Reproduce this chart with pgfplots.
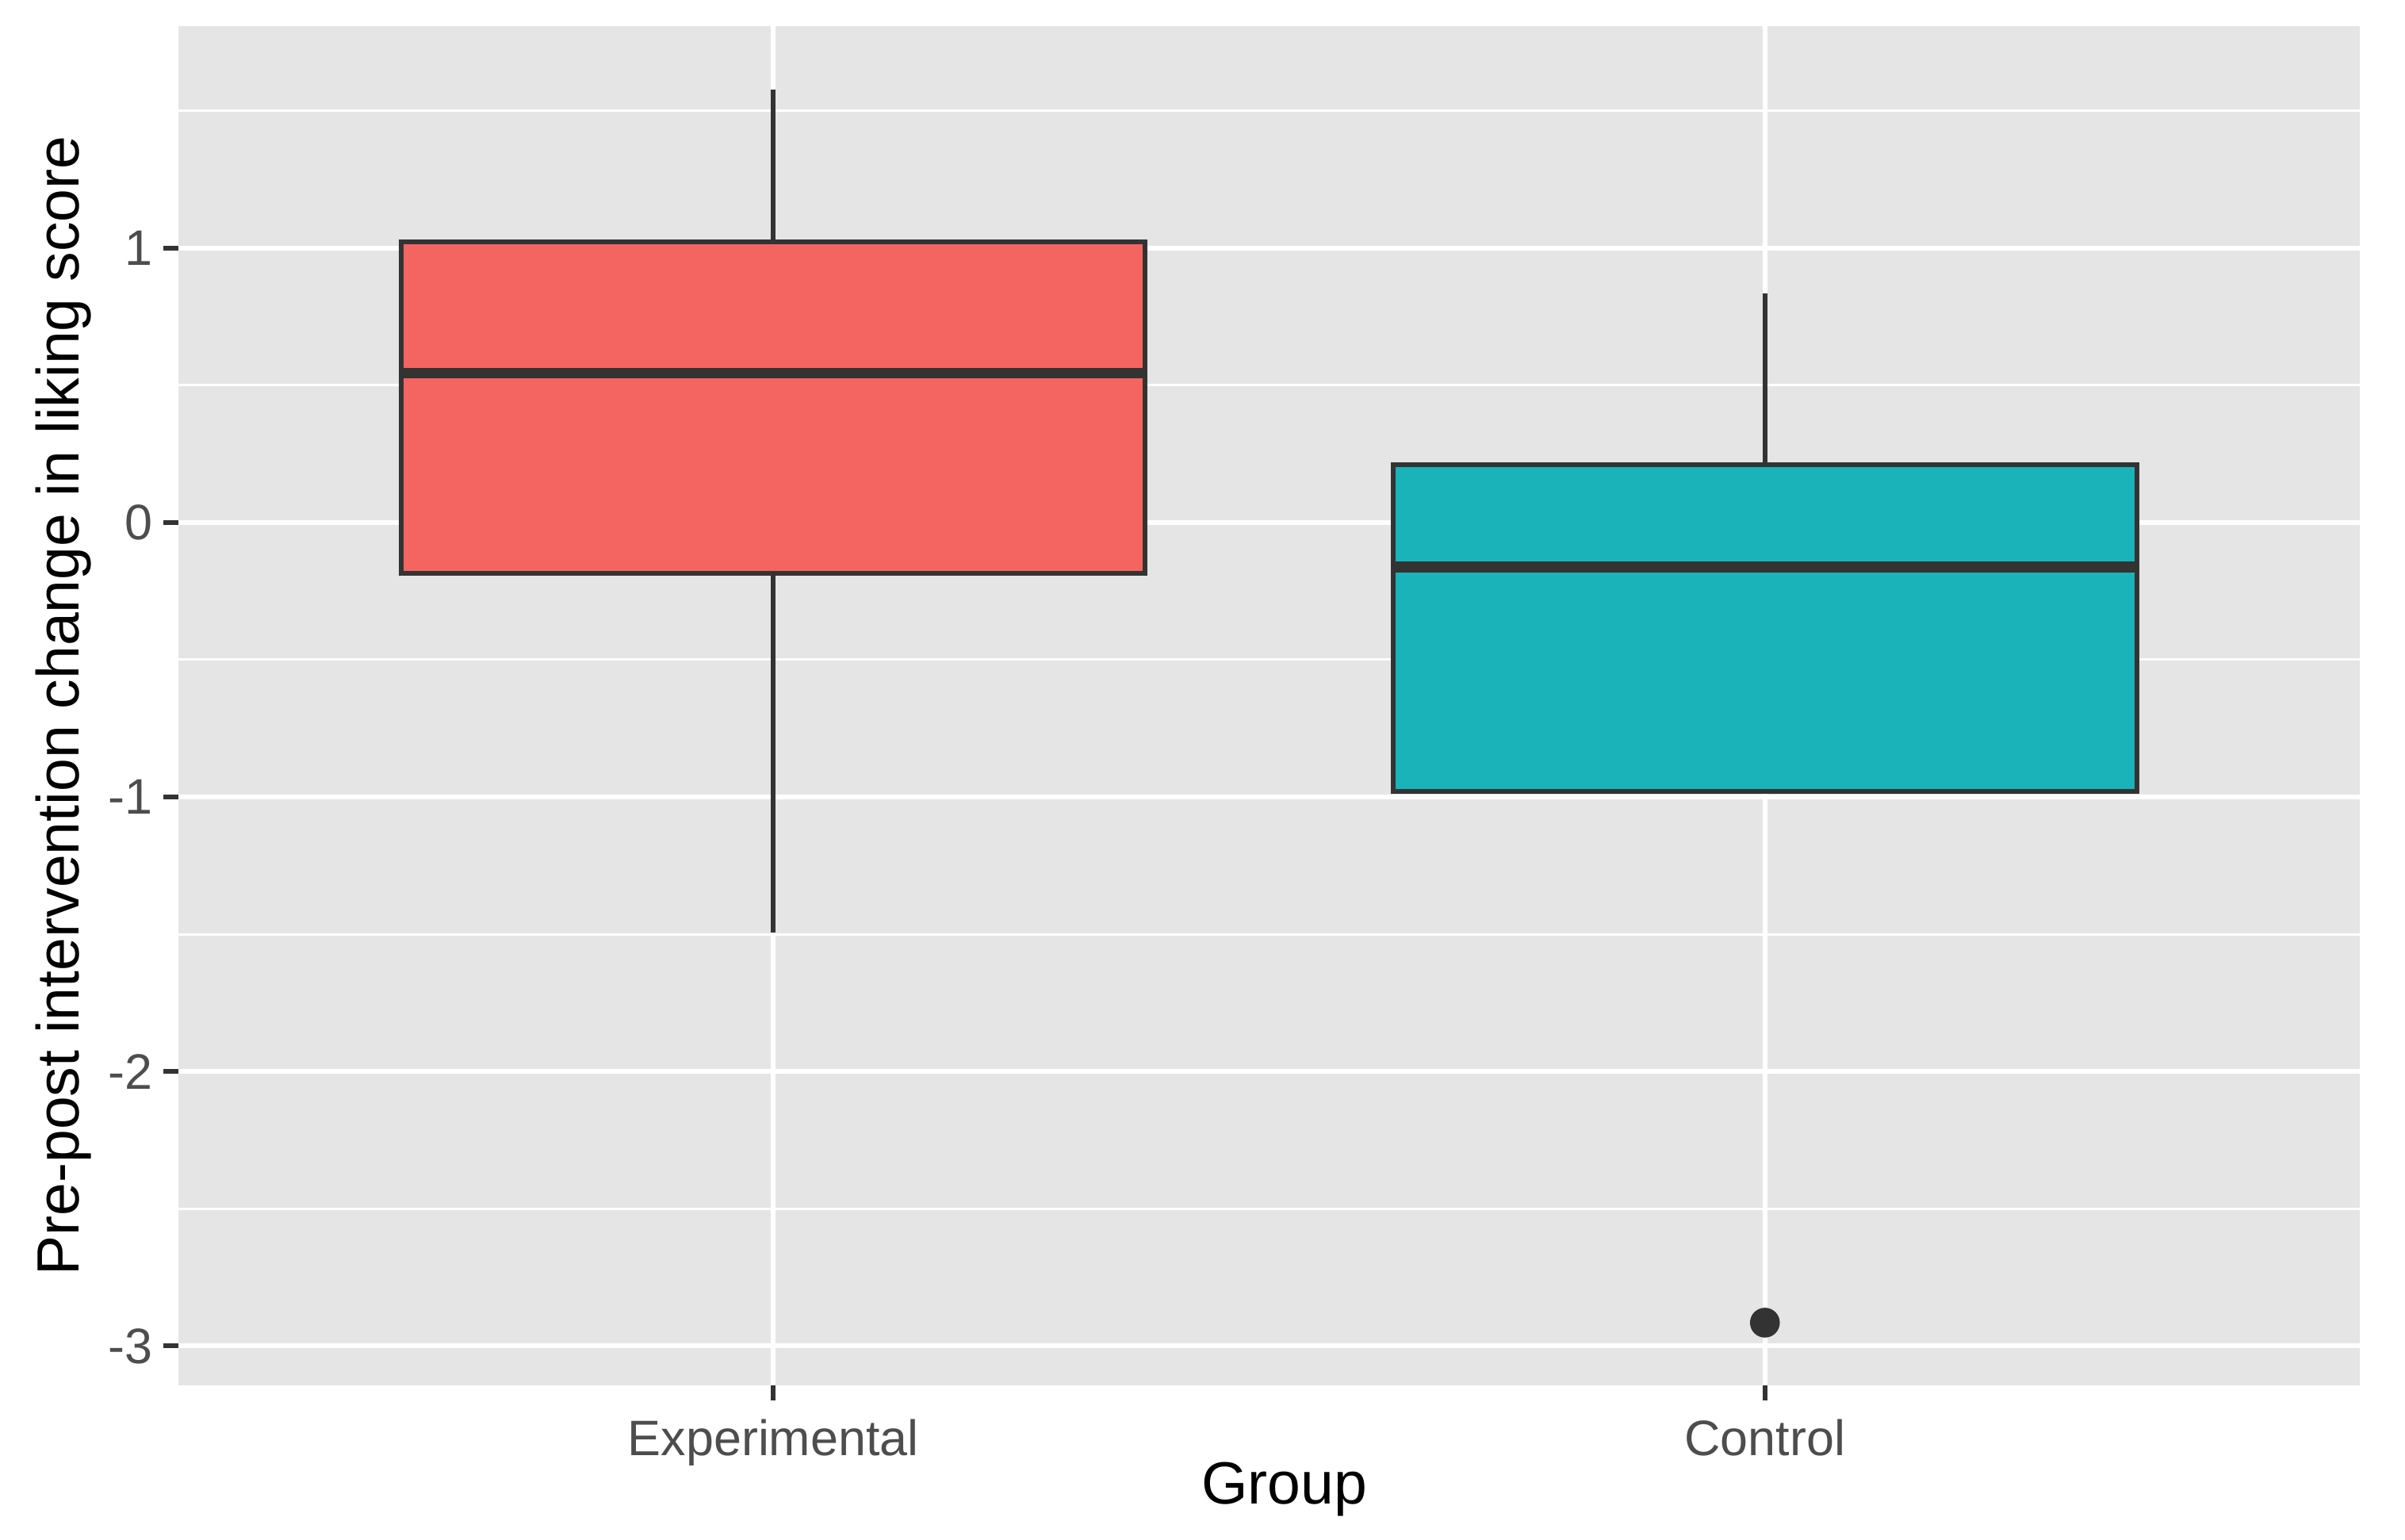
\documentclass[border=0pt]{standalone}
\usepackage{pgfplots}
\pgfplotsset{compat=1.18}
\usepgfplotslibrary{statistics}
\usepackage{fontspec}
\setmainfont{Liberation Sans}

\definecolor{panelgrey}{HTML}{E5E5E5}
\definecolor{boxred}{HTML}{F46460}
\definecolor{boxteal}{HTML}{19B3B9}
\definecolor{grey20}{HTML}{333333}
\definecolor{grey30}{HTML}{4D4D4D}

\begin{document}
\begin{tikzpicture}
\begin{axis}[
    name=ax,
    scale only axis,
    width=141.5mm,
    height=88.15mm,
    xmin=0.4, xmax=2.6,
    ymin=-3.143, ymax=1.808,
    axis background/.style={fill=panelgrey},
    axis line style={draw=none},
    xtick={1,2},
    xticklabels={Experimental,Control},
    ytick={-3,-2,-1,0,1},
    yticklabels={-3,-2,-1,0,1},
    minor ytick={-2.5,-1.5,-0.5,0.5,1.5},
    tick pos=left,
    tick align=outside,
    major tick length=2.75pt,
    minor tick length=0pt,
    major tick style={grey20, line width=0.9pt},
    xmajorgrids, ymajorgrids, yminorgrids,
    major grid style={white, line width=0.9pt},
    minor grid style={white, line width=0.45pt},
    ticklabel style={font=\fontsize{9.2}{11}\selectfont, text=grey30},
    yticklabel style={inner xsep=0.65mm},
    xlabel={Group},
    ylabel={Pre-post intervention change in liking score},
    label style={font=\fontsize{11}{13}\selectfont},
    xlabel style={at={([yshift=-7.71mm]rel axis cs:0.507,0)}, anchor=base},
    ylabel style={at={([xshift=-6.43mm]rel axis cs:0,0.5)}, anchor=base},
    boxplot/draw direction=y,
    boxplot/box extend=0.75,
    boxplot/whisker extend=0,
    boxplot/every median/.style={line width=1.95pt},
]
% Experimental
\addplot[draw=grey20, line width=0.9pt, fill=boxred,
    boxplot prepared={draw position=1,
        lower whisker=-1.494, lower quartile=-0.185,
        median=0.545, upper quartile=1.021, upper whisker=1.577}]
    coordinates {};
% Control, one outlier
\addplot[draw=grey20, line width=0.9pt, fill=boxteal,
    mark=*, mark size=2.3pt, mark options={fill=grey20, draw=none},
    boxplot prepared={draw position=2,
        lower whisker=-0.979, lower quartile=-0.979,
        median=-0.162, upper quartile=0.211, upper whisker=0.834}]
    table[row sep=\\, y index=0] {y\\ -2.915\\};
\end{axis}
\pgfresetboundingbox
\path ([shift={(-11.57mm,-10.03mm)}]ax.south west) rectangle ++(156mm,99.88mm);
\end{tikzpicture}
\end{document}
